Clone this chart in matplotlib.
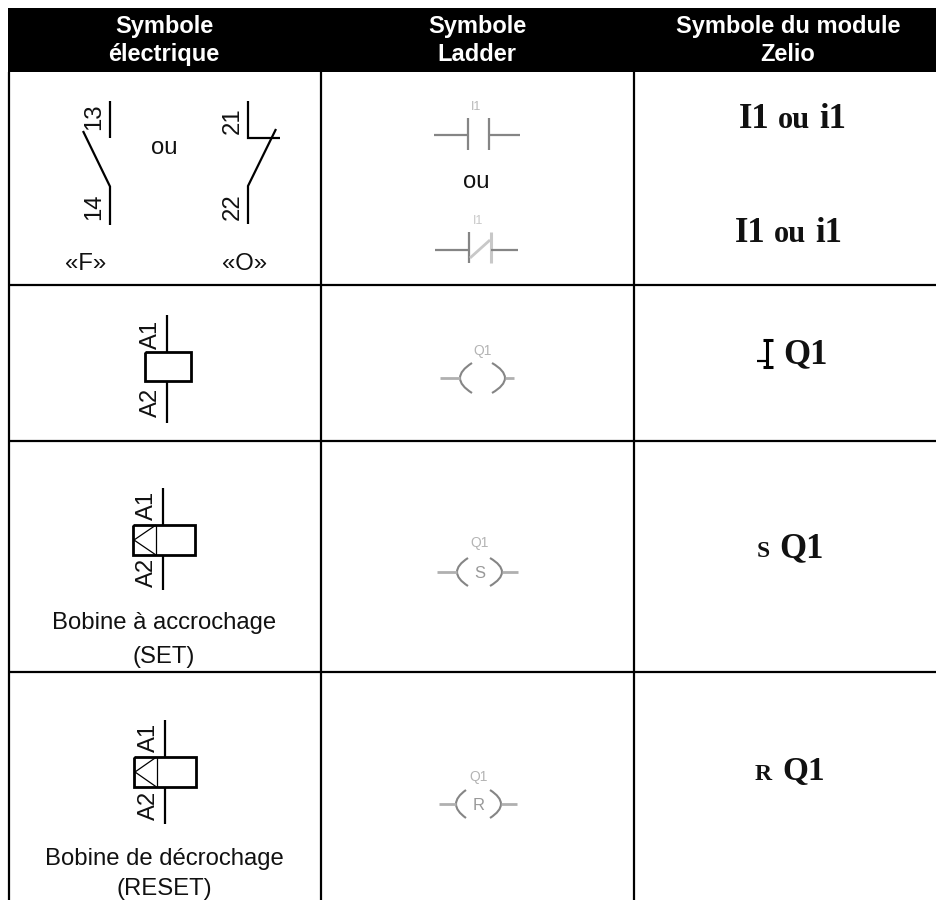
import matplotlib
matplotlib.use('Agg')
import matplotlib.pyplot as plt
from matplotlib.path import Path
from matplotlib.patches import PathPatch

# header and table layout, in pixels of the 936x900 picture
header_l1 = ['Symbole', 'Symbole', 'Symbole du module']
header_l2 = ['électrique', 'Ladder', 'Zelio']
header_x = [164, 477, 788]
col_lines = [8.5, 321, 633.5]
row_lines = [285, 441, 672]

contact_f = ['13', '14', '«F»']
contact_o = ['21', '22', '«O»']
coil_top = 'A1'
coil_bot = 'A2'
set_text = ['Bobine à accrochage', '(SET)']
reset_text = ['Bobine de décrochage', '(RESET)']
zelio_input = ['I1', 'ou', 'i1']

SANS = 'Liberation Sans'
SERIF = 'Liberation Serif'
LADDER = '#858585'

fig = plt.figure(figsize=(9.36, 9.0), dpi=100)
ax = fig.add_axes([0, 0, 1, 1])
ax.set_xlim(0, 936)
ax.set_ylim(900, 0)
ax.axis('off')


def line(xs, ys, lw=1.6, color='black'):
    ax.plot(xs, ys, color=color, lw=lw, solid_capstyle='butt', solid_joinstyle='miter')


def sans(x, y, s, size=17.2, rot=0, color='#111111', weight='normal'):
    # va='center' sits a bit high for horizontal text
    if rot == 0:
        y = y + 1.5
    ax.text(x, y, s, family=SANS, fontsize=size, rotation=rot, color=color,
            weight=weight, ha='center', va='center')


def serif(x, y, s, size):
    ax.text(x, y, s, family=SERIF, fontsize=size, weight='bold', color='#111111',
            ha='left', va='baseline')


def coil(xc, top, left, right, y1, y2, bottom, labx, laby1, laby2, inner=None):
    line([xc, xc], [top, y1])
    line([xc, xc], [y2, bottom])
    line([left, right, right, left, left], [y1, y1, y2, y2, y1], lw=2.0)
    if inner is not None:
        line([inner, inner], [y1, y2], lw=0.9)
        line([inner, left + 1, inner], [y1, (y1 + y2) / 2, y2], lw=0.9)
    sans(labx, laby1, coil_top, rot=90)
    sans(labx, laby2, coil_bot, rot=90)


def arc(x_end, x_mid, y, dy):
    verts = [(x_end, y - dy), (x_mid, y - dy / 2), (x_mid, y),
             (x_mid, y + dy / 2), (x_end, y + dy)]
    codes = [Path.MOVETO, Path.CURVE3, Path.CURVE3, Path.CURVE3, Path.CURVE3]
    ax.add_patch(PathPatch(Path(verts, codes), fc='none', ec=LADDER, lw=1.5))


def ladder_coil(x1, x2, x3, x4, x5, x6, y, dy, letter, ly):
    line([x1, x2], [y, y], lw=2.0, color='#b0b0b0')
    line([x5, x6], [y, y], lw=2.0, color='#b0b0b0')
    arc(x3, x2, y, dy)
    arc(x4, x5, y, dy)
    sans((x2 + x5) / 2, ly, 'Q1', size=10, color='#b4b4b4')
    if letter:
        sans((x2 + x5) / 2, y, letter, size=12, color='#999999')


# table
ax.fill_between([8, 936], 8, 72, color='black', lw=0)
for x in col_lines:
    line([x, x], [72, 900])
for y in row_lines:
    line([8, 936], [y, y])
for x, a, b in zip(header_x, header_l1, header_l2):
    sans(x, 25, a, size=17, color='white', weight='bold')
    sans(x, 53, b, size=17, color='white', weight='bold')

# contacts, first column
line([110, 110], [101, 138])
line([83, 110, 110], [131, 186.5, 225])
sans(94, 117, contact_f[0], rot=90)
sans(94, 207, contact_f[1], rot=90)
sans(86, 263, contact_f[2])
sans(164, 146, 'ou')
line([248, 248, 280], [101, 138, 138])
line([276, 248, 248], [129, 186, 224])
sans(233, 121, contact_o[0], rot=90)
sans(233, 207, contact_o[1], rot=90)
sans(245, 263, contact_o[2])

# coils, first column
coil(167, 315, 144.5, 190.5, 352, 381, 423, 151, 334, 402)
coil(163, 488, 133, 195, 525, 555, 590, 147, 505, 572, inner=156)
sans(164, 622, set_text[0])
sans(164, 656, set_text[1])
coil(165, 720, 134, 195.5, 757, 787, 824, 149, 737, 805, inner=156.5)
sans(164, 857, reset_text[0])
sans(164, 888, reset_text[1])

# ladder column
line([434, 467], [135, 135], color=LADDER)
line([467.5, 467.5], [118, 150], color=LADDER)
line([489, 489], [118, 150], color=LADDER)
line([489, 520], [135, 135], color=LADDER)
sans(476, 105, 'I1', size=9, color='#b8b8b8')
sans(476, 180, 'ou')
line([435, 468], [249.5, 249.5], color=LADDER)
line([468.5, 468.5], [232, 263], color=LADDER)
line([491, 491], [232, 263], lw=2.2, color='#c8c8c8')
line([491, 518], [249.5, 249.5], color=LADDER)
line([470, 490], [258, 240], lw=2.0, color='#c8c8c8')
sans(478, 219, 'I1', size=9, color='#c8c8c8')
ladder_coil(440, 460, 472, 492, 505, 514, 378, 15, '', 349)
ladder_coil(437, 457, 468, 490, 502, 518, 572, 14, 'S', 542)
ladder_coil(439, 456, 466, 490, 501, 517, 804, 14, 'R', 775)

# zelio column
for x0, y in [(739, 128), (735, 242)]:
    serif(x0, y, zelio_input[0], 25)
    serif(x0 + 39, y, zelio_input[1], 22)
    serif(x0 + 80, y, zelio_input[2], 25)
line([773, 766.5, 766.5, 773], [339.5, 339.5, 366.5, 366.5], lw=2.2)
line([763, 766], [339.5, 339.5], lw=2.2)
line([763, 766], [366.5, 366.5], lw=2.2)
line([757, 766], [361, 361], lw=1.6)
serif(783, 363, 'Q1', 25)
serif(757, 557, 'S', 17)
serif(779, 557, 'Q1', 25)
serif(755, 780, 'R', 17)
serif(782, 780, 'Q1', 24)

fig.savefig('out.png', dpi=100)
